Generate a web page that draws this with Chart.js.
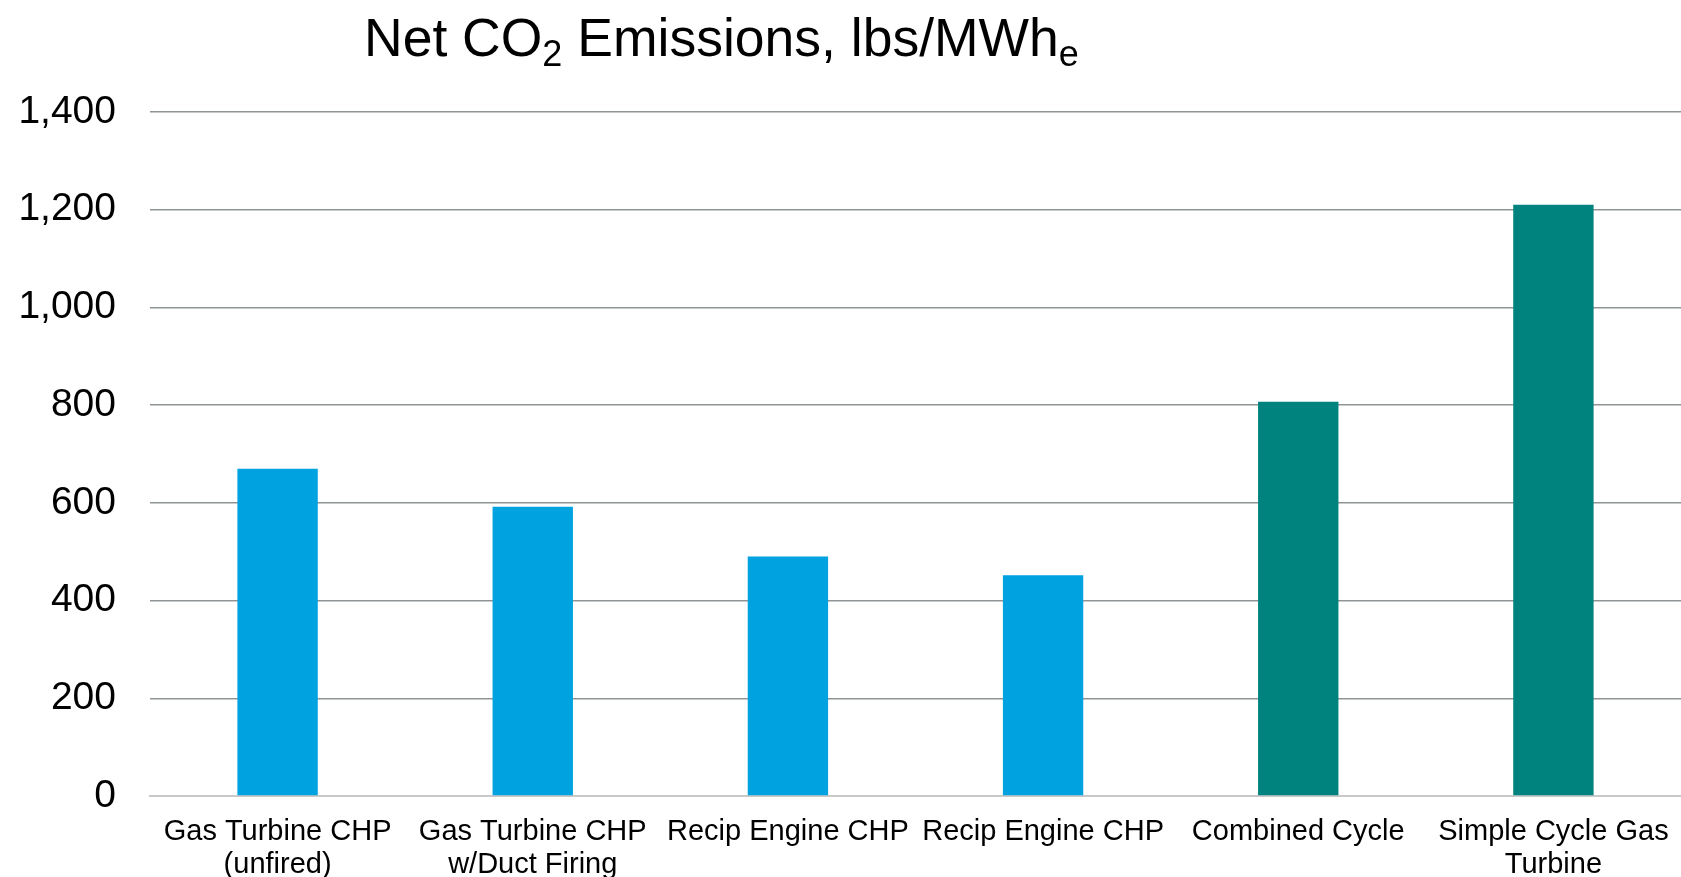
<!DOCTYPE html>
<html>
<head>
<meta charset="utf-8">
<script src="https://cdn.jsdelivr.net/npm/chart.js@4.4.1/dist/chart.umd.min.js"></script>
<style>
  html, body { margin: 0; padding: 0; background: #ffffff; }
  #wrap { width: 1681px; height: 877px; position: relative; }
</style>
</head>
<body>
<div id="wrap"><canvas id="c" width="1681" height="877"></canvas></div>
<script>
// Technology categories (multi-line labels)
const categories = [
  ['Gas Turbine CHP', '(unfired)'],
  ['Gas Turbine CHP', 'w/Duct Firing'],
  ['Recip Engine CHP'],
  ['Recip Engine CHP'],
  ['Combined Cycle'],
  ['Simple Cycle Gas', 'Turbine']
];

// Net CO2 emissions, lbs/MWh(e)
const emissions = [670, 592, 490, 452, 807, 1210];

// CHP technologies in blue, conventional generation in teal
const barColors = ['#00A3E0', '#00A3E0', '#00A3E0', '#00A3E0', '#00837E', '#00837E'];

// Y-axis ticks
const yTicks = [0, 200, 400, 600, 800, 1000, 1200, 1400];

const FONT = '"Liberation Sans", Arial, sans-serif';

// Title with subscripts: "Net CO2 Emissions, lbs/MWhe"
const titlePlugin = {
  id: 'subTitle',
  afterDraw(chart) {
    const ctx = chart.ctx;
    const parts = [
      { t: 'Net CO', sub: false },
      { t: '2', sub: true },
      { t: ' Emissions, lbs/MWh', sub: false },
      { t: 'e', sub: true }
    ];
    const size = 53.5, subSize = 36;
    let x = 364;
    const base = 56;
    ctx.save();
    ctx.fillStyle = '#000000';
    ctx.textBaseline = 'alphabetic';
    ctx.textAlign = 'left';
    for (const p of parts) {
      ctx.font = (p.sub ? subSize : size) + 'px ' + FONT;
      ctx.fillText(p.t, x, p.sub ? base + 10 : base);
      x += ctx.measureText(p.t).width;
    }
    ctx.restore();
  }
};

new Chart(document.getElementById('c'), {
  type: 'bar',
  data: {
    labels: categories,
    datasets: [{
      data: emissions,
      backgroundColor: barColors,
      borderWidth: 0,
      barPercentage: 0.63,
      categoryPercentage: 0.5
    }]
  },
  options: {
    responsive: false,
    animation: false,
    devicePixelRatio: 1,
    layout: { padding: { top: 112, right: 0, left: 0, bottom: 0 } },
    plugins: {
      legend: { display: false },
      title: { display: false },
      tooltip: { enabled: false }
    },
    scales: {
      x: {
        grid: { display: false, drawTicks: false },
        border: { display: true, color: '#c9c9c9', width: 2 },
        ticks: {
          color: '#000000',
          font: { family: FONT, size: 29, lineHeight: 1.15 },
          padding: 19,
          maxRotation: 0,
          autoSkip: false
        },
        afterFit(scale) {
          scale.height = 81;
          scale.paddingLeft = 0;
          scale.paddingRight = 0;
        }
      },
      y: {
        min: 0,
        max: 1400,
        afterBuildTicks(scale) { scale.ticks = yTicks.map(v => ({ value: v })); },
        grid: { color: '#8f9496', lineWidth: 1.5, drawTicks: false },
        border: { display: false },
        ticks: {
          color: '#000000',
          font: { family: FONT, size: 39 },
          padding: 34,
          callback: v => v.toLocaleString('en-US')
        },
        afterFit(scale) { scale.width = 150; }
      }
    }
  },
  plugins: [titlePlugin]
});
</script>
</body>
</html>
